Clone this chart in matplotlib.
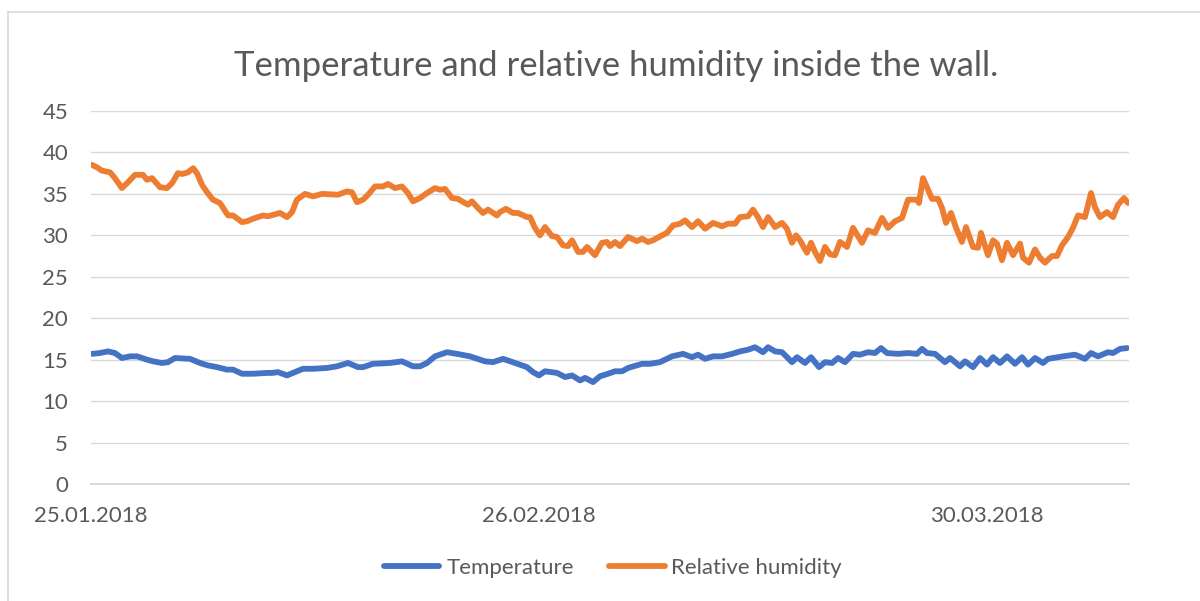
import matplotlib
matplotlib.use("Agg")
import matplotlib.pyplot as plt
from matplotlib.lines import Line2D

plt.rcParams['font.family'] = ['Lato', 'DejaVu Sans']

title = "Temperature and relative humidity inside the wall."
series_names = ["Temperature", "Relative humidity"]
x_tick_days = [0, 32, 64]
x_tick_labels = ["25.01.2018", "26.02.2018", "30.03.2018"]
y_ticks = [0, 5, 10, 15, 20, 25, 30, 35, 40, 45]

# days since 25.01.2018
temp_day = [0.07, 0.64, 1.21, 1.71, 2.21, 2.79, 3.29, 4.0, 4.43, 5.07, 5.5, 6.0, 7.07, 7.79,
            8.36, 9.0, 9.71, 10.14, 10.79, 11.57, 12.57, 12.93, 13.36, 14.0, 14.57, 15.14,
            15.86, 16.86, 17.57, 18.36, 19.07, 19.43, 20.14, 21.36, 22.21, 23.0, 23.5, 24.0,
            24.57, 25.43, 26.14, 27.07, 28.14, 28.71, 29.43, 30.29, 31.14, 31.57, 32.0, 32.43,
            33.29, 33.86, 34.36, 34.93, 35.29, 35.86, 36.36, 36.93, 37.43, 37.93, 38.36, 39.36,
            39.93, 40.64, 41.5, 42.29, 42.93, 43.36, 43.86, 44.43, 45.07, 45.79, 46.36, 46.93,
            47.43, 48.0, 48.36, 48.86, 49.36, 50.07, 50.43, 51.0, 51.43, 52.0, 52.43, 52.93,
            53.36, 53.86, 54.43, 54.93, 55.5, 56.0, 56.43, 56.86, 57.64, 58.36, 59.0, 59.36,
            59.71, 60.29, 61.0, 61.36, 62.07, 62.43, 63.0, 63.5, 64.0, 64.43, 64.93, 65.43,
            66.0, 66.5, 66.93, 67.43, 68.0, 68.36, 69.43, 70.29, 71.0, 71.43, 71.93, 72.64,
            73.0, 73.5, 74.0]
temp_val = [15.7, 15.8, 16.0, 15.8, 15.2, 15.4, 15.4, 15.0, 14.8, 14.6, 14.7, 15.2, 15.1, 14.6,
            14.3, 14.1, 13.8, 13.8, 13.3, 13.3, 13.4, 13.4, 13.5, 13.1, 13.5, 13.9,
            13.9, 14.0, 14.2, 14.6, 14.1, 14.1, 14.5, 14.6, 14.8, 14.2, 14.2, 14.6,
            15.4, 15.9, 15.7, 15.4, 14.8, 14.7, 15.1, 14.6, 14.1, 13.5, 13.1, 13.6,
            13.4, 12.9, 13.1, 12.5, 12.8, 12.3, 13.0, 13.3, 13.6, 13.6, 14.0, 14.5,
            14.5, 14.7, 15.4, 15.7, 15.3, 15.6, 15.1, 15.4, 15.4, 15.7, 16.0, 16.2,
            16.5, 15.9, 16.5, 16.0, 15.9, 14.7, 15.3, 14.6, 15.3, 14.1, 14.7, 14.6,
            15.2, 14.7, 15.7, 15.6, 15.9, 15.8, 16.4, 15.8, 15.7, 15.8, 15.7, 16.3,
            15.8, 15.7, 14.7, 15.2, 14.2, 14.8, 14.1, 15.2, 14.4, 15.3, 14.6, 15.4,
            14.5, 15.3, 14.4, 15.2, 14.6, 15.1, 15.4, 15.6, 15.1, 15.8, 15.4, 15.9,
            15.8, 16.3, 16.4]

rh_day = [0.07, 0.43, 0.79, 1.36, 1.71, 2.21, 2.64, 3.14, 3.71, 4.0, 4.36, 4.93, 5.43, 5.79,
          6.21, 6.5, 6.93, 7.29, 7.57, 7.93, 8.29, 8.71, 9.21, 9.79, 10.14, 10.79, 11.14,
          11.57, 12.29, 12.64, 13.5, 14.0, 14.36, 14.71, 15.29, 15.86, 16.5, 17.64, 18.29,
          18.64, 19.0, 19.43, 19.79, 20.29, 20.86, 21.21, 21.71, 22.21, 22.64, 23.0, 23.5,
          24.0, 24.57, 24.93, 25.29, 25.79, 26.21, 26.71, 26.93, 27.21, 27.64, 28.0, 28.36,
          29.0, 29.21, 29.64, 30.14, 30.5, 31.14, 31.36, 31.71, 32.07, 32.43, 32.93, 33.29,
          33.71, 34.07, 34.36, 34.79, 35.14, 35.43, 36.0, 36.5, 36.86, 37.07, 37.43, 37.79,
          38.36, 39.0, 39.36, 39.79, 40.14, 40.79, 41.14, 41.57, 42.07, 42.43, 42.93, 43.36,
          43.86, 44.43, 45.07, 45.5, 46.0, 46.36, 46.93, 47.29, 47.64, 48.0, 48.36, 48.86,
          49.36, 49.71, 50.07, 50.36, 50.64, 51.14, 51.43, 51.71, 52.07, 52.43, 52.79, 53.14,
          53.5, 54.0, 54.43, 55.07, 55.5, 56.0, 56.5, 56.93, 57.43, 57.93, 58.36, 59.0,
          59.14, 59.43, 59.71, 60.07, 60.5, 60.79, 61.07, 61.43, 61.79, 62.21, 62.5, 63.0,
          63.36, 63.57, 64.07, 64.43, 64.71, 65.07, 65.43, 65.86, 66.36, 66.57, 67.0, 67.43,
          67.79, 68.14, 68.64, 69.0, 69.36, 69.79, 70.14, 70.5, 71.0, 71.43, 71.71, 72.07,
          72.57, 73.0, 73.36, 73.79, 74.07]
rh_val = [38.5, 38.2, 37.8, 37.6, 36.9, 35.7, 36.4, 37.3, 37.3, 36.7, 36.9, 35.8, 35.7, 36.3,
          37.5, 37.4, 37.6, 38.1, 37.5, 36.1, 35.2, 34.3, 33.9, 32.4, 32.4, 31.6, 31.7,
          32.0, 32.4, 32.3, 32.7, 32.2, 32.8, 34.3, 35.0, 34.7, 35.0, 34.9, 35.3,
          35.2, 34.0, 34.3, 34.9, 35.9, 35.9, 36.2, 35.7, 35.9, 35.1, 34.1, 34.5,
          35.1, 35.7, 35.5, 35.6, 34.5, 34.4, 33.9, 33.7, 34.1, 33.3, 32.7, 33.1,
          32.4, 32.8, 33.2, 32.7, 32.7, 32.2, 32.2, 30.9, 30.0, 31.0, 29.9, 29.8,
          28.8, 28.7, 29.4, 28.0, 28.0, 28.6, 27.6, 29.1, 29.2, 28.7, 29.2, 28.7,
          29.8, 29.3, 29.6, 29.2, 29.4, 30.0, 30.3, 31.2, 31.4, 31.8, 31.0, 31.7,
          30.8, 31.5, 31.1, 31.4, 31.4, 32.2, 32.3, 33.1, 32.2, 31.0, 32.2, 31.0,
          31.5, 30.8, 29.1, 30.0, 29.4, 27.9, 29.1, 28.0, 26.9, 28.6, 27.7, 27.6,
          29.2, 28.6, 30.9, 29.1, 30.6, 30.3, 32.1, 30.9, 31.7, 32.1, 34.3, 34.3,
          33.9, 36.9, 35.8, 34.4, 34.4, 33.3, 31.5, 32.7, 30.9, 29.2, 31.0, 28.6,
          28.5, 30.3, 27.6, 29.4, 29.0, 27.0, 29.1, 27.6, 29.0, 27.3, 26.7, 28.3,
          27.3, 26.7, 27.5, 27.5, 28.8, 29.8, 30.9, 32.4, 32.2, 35.1, 33.4, 32.2,
          32.8, 32.2, 33.7, 34.5, 33.9]

colors = ["#4472C4", "#ED7D31"]
text_color = "#595959"
grid_color = "#D9D9D9"

W, H = 1200, 601
fig = plt.figure(figsize=(W / 100, H / 100), dpi=100)
ax = fig.add_axes([91 / W, 1 - 484 / H, (1129 - 91) / W, (484 - 111) / H])

lw = 4.2
ax.plot(temp_day, temp_val, color=colors[0], lw=lw, solid_capstyle='round',
        solid_joinstyle='round', zorder=3)
ax.plot(rh_day, rh_val, color=colors[1], lw=lw, solid_capstyle='round',
        solid_joinstyle='round', zorder=3)

ax.set_xlim(0, (1129 - 91) / 14.0)
ax.set_ylim(0, 45)
ax.set_yticks(y_ticks)
ax.set_xticks(x_tick_days)
ax.set_xticklabels(x_tick_labels)
ax.tick_params(axis='both', length=0, labelsize=16, colors=text_color)
ax.tick_params(axis='y', pad=16.5)
ax.tick_params(axis='x', pad=16)
ax.grid(axis='y', color=grid_color, lw=1.0, zorder=0)
for s in ['top', 'right', 'left']:
    ax.spines[s].set_visible(False)
ax.spines['bottom'].set_color(grid_color)
ax.spines['bottom'].set_linewidth(1.4)
ax.set_axisbelow(True)

fig.text(616 / W, 1 - 66 / H, title, ha='center', va='center', fontsize=25,
         color=text_color)

handles = [Line2D([0], [0], color=c, lw=lw, solid_capstyle='round') for c in colors]
fig.legend(handles, series_names, loc='center', bbox_to_anchor=(613 / W, 1 - 568 / H),
           ncol=2, frameon=False, fontsize=16, handlelength=2.5, handletextpad=0.3,
           columnspacing=1.6, labelcolor=text_color)

# chart frame (left and top edges visible)
fig.add_artist(Line2D([8 / W, 8 / W], [0, 1 - 12 / H], transform=fig.transFigure,
                      color=grid_color, lw=1.2))
fig.add_artist(Line2D([8 / W, 1], [1 - 12 / H, 1 - 12 / H], transform=fig.transFigure,
                      color=grid_color, lw=1.2))

fig.savefig("out.png", dpi=100)
